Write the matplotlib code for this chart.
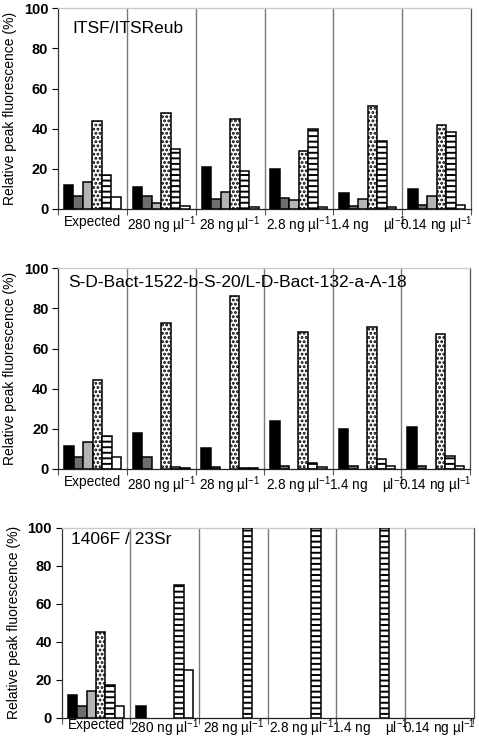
import matplotlib
matplotlib.use("Agg")
import matplotlib.pyplot as plt
import numpy as np

plt.rcParams['font.family'] = ['Liberation Sans', 'DejaVu Sans']
plt.rcParams['mathtext.fontset'] = 'custom'
plt.rcParams['mathtext.rm'] = 'Liberation Sans'
plt.rcParams['mathtext.it'] = 'Liberation Sans:italic'
plt.rcParams['mathtext.bf'] = 'Liberation Sans:bold'
plt.rcParams['hatch.linewidth'] = 1.4

# categories (x tick labels)
categories = ['Expected', '280 ng µl$^{-1}$', '28 ng µl$^{-1}$', '2.8 ng µl$^{-1}$',
              '1.4 ng    µl$^{-1}$', '0.14 ng µl$^{-1}$']

# panel titles
titles = ['ITSF/ITSReub', 'S-D-Bact-1522-b-S-20/L-D-Bact-132-a-A-18', '1406F / 23Sr']

# values: rows = categories, cols = the 6 peaks (black, dark grey, light grey, dotted, striped, white)
itsf_vals = [
    [12, 6.5, 13.5, 44, 17, 6],
    [11, 6.5, 3, 48, 30, 1.5],
    [21, 5, 8.5, 45, 19, 1],
    [20, 5.5, 4.5, 29, 40, 1],
    [8, 1.5, 5, 51.5, 34, 1],
    [10, 2, 6.5, 42, 38.5, 2],
]
sdbact_vals = [
    [11.5, 6, 13.5, 44.5, 16.5, 6],
    [18, 6, 0, 72.5, 1, 0.5],
    [10.5, 1, 0, 86, 0.5, 0.5],
    [24, 1.5, 0, 68.5, 3, 1],
    [20, 1.5, 0, 71, 5, 1.5],
    [21, 1.5, 0, 67.5, 6.5, 1.5],
]
r1406_vals = [
    [12, 6, 14, 45, 17, 6],
    [6, 0, 0, 0, 70, 25],
    [0, 0, 0, 0, 100, 0],
    [0, 0, 0, 0, 100, 0],
    [0, 0, 0, 0, 100, 0],
    [0, 0, 0, 0, 0, 0],
]
panel_data = [itsf_vals, sdbact_vals, r1406_vals]

# bar styles for the 6 peaks
faces = ['black', '#6e6e6e', '#b4b4b4', 'white', 'white', 'white']
hatches = [None, None, None, '....', '---', None]

# axes rectangles in figure fraction (left, bottom, width, height)
W, H = 479, 738
rects = [
    (58 / W, 1 - 209 / H, 413 / W, 200.7 / H),
    (58.3 / W, 1 - 469 / H, 411.7 / W, 200.7 / H),
    (61.7 / W, 1 - 717.5 / H, 411.8 / W, 190 / H),
]
title_pos = [(0.036, 0.90), (0.024, 0.93), (0.023, 0.935)]
xlabel_pad = [4, 4, 0.2]

fig = plt.figure(figsize=(W / 100, H / 100), dpi=100)
bw = 0.138
x = np.arange(len(categories))

for k in range(3):
    ax = fig.add_axes(rects[k])
    vals = np.array(panel_data[k], dtype=float)
    vals[vals == 0] = np.nan  # no peak -> no bar
    for j in range(6):
        ax.bar(x + (j - 2.5) * bw, vals[:, j], width=bw, color=faces[j],
               edgecolor='black', linewidth=1.1, hatch=hatches[j], zorder=3)

    # group separators
    for b in x[:-1] + 0.5:
        ax.axvline(b, color='#7a7a7a', lw=1.0, zorder=1)

    ax.set_xlim(-0.5, len(categories) - 0.5)
    ax.set_ylim(0, 100)
    ax.set_yticks(np.arange(0, 101, 20))
    ax.tick_params(axis='y', length=4, width=0.8, labelsize=10.5, pad=3)
    for t in ax.get_yticklabels():
        t.set_fontweight('bold')
    ax.set_xticks(x)
    ax.set_xticklabels(categories, fontsize=9.8)
    ax.tick_params(axis='x', which='major', length=0, pad=xlabel_pad[k])
    ax.set_xticks(np.arange(-0.5, len(categories)), minor=True)
    ax.tick_params(axis='x', which='minor', length=4, width=0.8, color='#555555')

    ax.spines['top'].set_color('#c8c8c8')
    ax.spines['right'].set_color('#505050')
    ax.spines['left'].set_color('#333333')
    ax.spines['bottom'].set_color('#222222')
    for s in ax.spines.values():
        s.set_linewidth(0.9)

    ax.set_ylabel('Relative peak fluorescence (%)', fontsize=10)
    ax.yaxis.set_label_coords(-0.1, 0.5)
    ax.text(title_pos[k][0], title_pos[k][1], titles[k], transform=ax.transAxes,
            fontsize=12.5, ha='left', va='center', zorder=4)

fig.savefig('out.png', dpi=100)
